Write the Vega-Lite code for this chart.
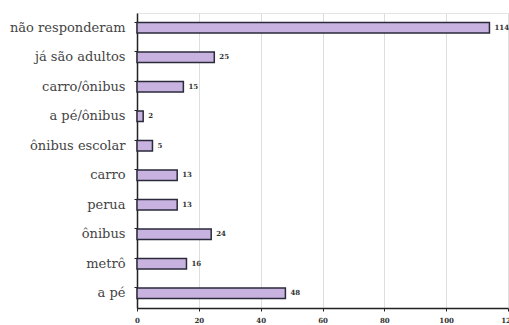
{
  "$schema": "https://vega.github.io/schema/vega-lite/v6.json",
  "width": 371,
  "height": 295,
  "autosize": {"type": "none"},
  "padding": {"left": 137, "top": 13, "right": 1, "bottom": 17},
  "background": "white",
  "config": {
    "view": {"stroke": "#e4e4e4", "strokeWidth": 1},
    "font": "DejaVu Serif"
  },
  "data": {
    "values": [
      {"categoria": "não responderam", "valor": 114},
      {"categoria": "já são adultos", "valor": 25},
      {"categoria": "carro/ônibus", "valor": 15},
      {"categoria": "a pé/ônibus", "valor": 2},
      {"categoria": "ônibus escolar", "valor": 5},
      {"categoria": "carro", "valor": 13},
      {"categoria": "perua", "valor": 13},
      {"categoria": "ônibus", "valor": 24},
      {"categoria": "metrô", "valor": 16},
      {"categoria": "a pé", "valor": 48}
    ]
  },
  "encoding": {
    "y": {
      "field": "categoria",
      "type": "nominal",
      "sort": null,
      "scale": {"paddingInner": 0.64, "paddingOuter": 0.32},
      "axis": {
        "title": null,
        "bandPosition": 0,
        "domainColor": "#222",
        "domainWidth": 1.5,
        "tickColor": "#222",
        "tickSize": 3,
        "labelFont": "DejaVu Serif",
        "labelFontSize": 13,
        "labelColor": "#444",
        "labelPadding": 9,
        "labelAlign": "right"
      }
    },
    "x": {
      "field": "valor",
      "type": "quantitative",
      "scale": {"domain": [0, 120], "nice": false},
      "axis": {
        "title": null,
        "values": [0, 20, 40, 60, 80, 100, 120],
        "grid": true,
        "gridColor": "#dedede",
        "domainColor": "#222",
        "domainWidth": 1.5,
        "tickColor": "#222",
        "tickSize": 3,
        "labelFontSize": 7,
        "labelFontWeight": "bold",
        "labelColor": "#333",
        "labelPadding": 5,
        "labelFlush": false
      }
    }
  },
  "layer": [
    {
      "mark": {"type": "bar", "fill": "#c8b3e0", "stroke": "#2a2a3a", "strokeWidth": 1.5}
    },
    {
      "mark": {"type": "text", "align": "left", "dx": 5, "fontSize": 7, "fontWeight": "bold", "color": "#333"},
      "encoding": {"text": {"field": "valor", "type": "quantitative"}}
    }
  ]
}
